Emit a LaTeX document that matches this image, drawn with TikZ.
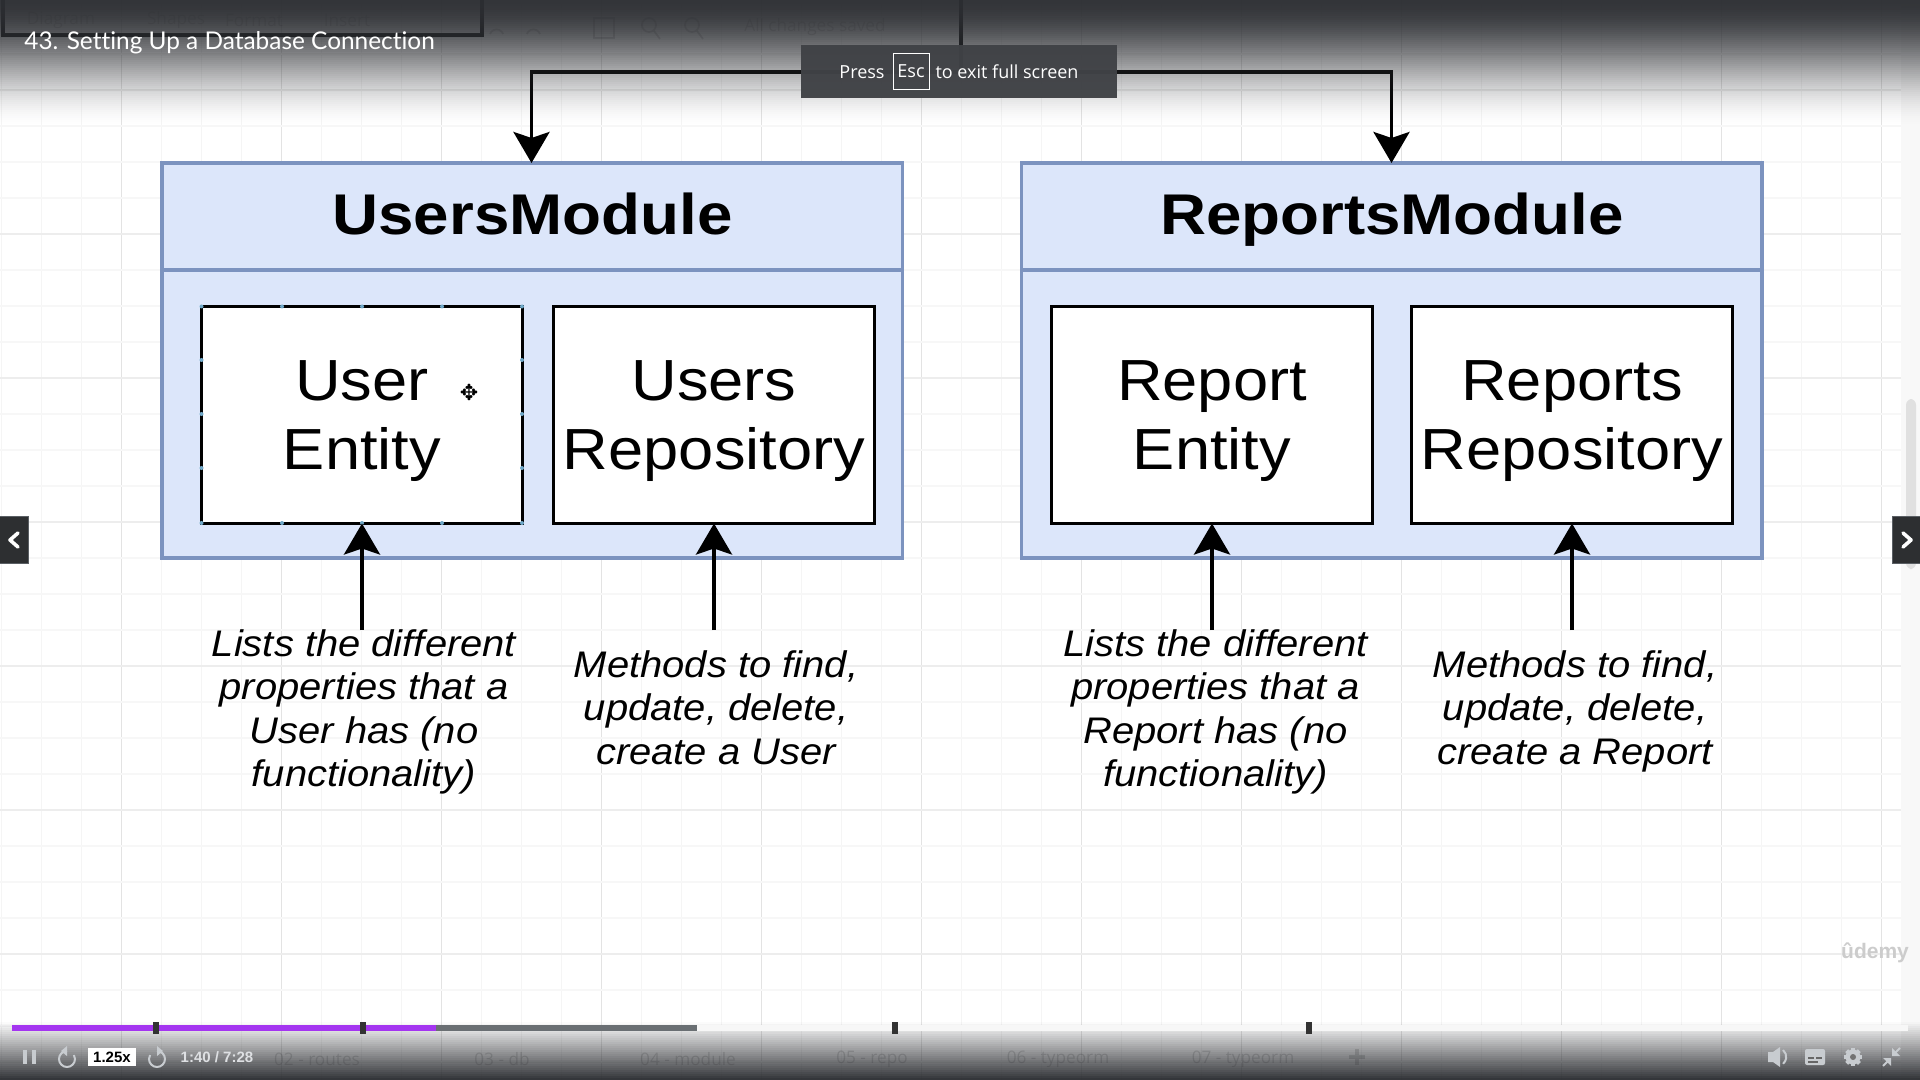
\documentclass[tikz,border=0pt]{standalone}
\usepackage{fontspec}
\usepackage{graphicx}
\setmainfont{Liberation Sans}
\newfontfamily\uifont{Open Sans}
\newfontfamily\titlefont[Ligatures=NoCommon]{Lato}
\newfontfamily\symfont{DejaVu Sans}
\usetikzlibrary{arrows.meta}
\definecolor{modfill}{HTML}{DCE6FA}
\definecolor{modline}{HTML}{7C93BF}
\definecolor{barkdark}{HTML}{2D2F33}
\definecolor{toastbg}{HTML}{404246}
\definecolor{purplebar}{HTML}{A435F0}
\definecolor{graybar}{HTML}{6A6F73}
\definecolor{handlecol}{HTML}{6FA8C8}
\definecolor{iconcol}{HTML}{C8CCD0}
\definecolor{navcol}{HTML}{2D2F31}
\definecolor{navedge}{HTML}{5A5F64}
\definecolor{panelcol}{HTML}{F8F8F8}
\newcommand{\xs}[2][1.11]{\scalebox{#1}[1]{\begin{tabular}{@{}c@{}}#2\end{tabular}}}
\newcommand{\boxtxt}[1]{\raisebox{-3pt}[\height][\depth]{\xs[1.09]{#1}}}
\tikzset{
  x=0.5pt,y=-0.5pt,
  modbox/.style={draw=modline,fill=modfill,line width=1.75pt,minimum width=370.25pt,inner sep=0pt,outer sep=0pt},
  inbox/.style={draw=black,fill=white,line width=1.9pt,inner sep=0pt,outer sep=0pt,align=center,minimum width=160.5pt,minimum height=108.5pt,anchor=north west,font=\fontsize{29}{34.3}\selectfont},
  headtxt/.style={font=\fontsize{28.7}{34}\selectfont\bfseries,inner sep=0pt,anchor=base},
  notetxt/.style={font=\fontsize{18.5}{21.6}\selectfont\itshape,inner sep=0pt,anchor=north},
  conn/.style={draw=black,line width=1.9pt},
  arr/.style={conn,-{Stealth[length=15.5pt,width=18pt,inset=3pt]}},
  ghost/.style={text=black,opacity=.16,inner sep=0pt,font=\uifont\fontsize{8.6}{10}\selectfont},
  ghostline/.style={draw=black,opacity=.16,line width=.9pt},
  uiw/.style={text=white,inner sep=0pt},
  navbtn/.style={fill=navcol,draw=navedge,line width=.5pt},
  chev/.style={draw=white,line width=1.8pt,line cap=round,line join=round},
  iconf/.style={fill=iconcol,draw=none},
  icond/.style={draw=iconcol},
}
\begin{document}
\begin{tikzpicture}
\useasboundingbox (0,0) rectangle (1920,1080);
\fill[white] (0,0) rectangle (1920,1080);
% grid
\foreach \gx in {0,...,47} {\draw[black!4,line width=.5pt] ({\gx*40+1.7},0) -- ({\gx*40+1.7},1080);}
\foreach \gx in {0,...,11} {\draw[black!11,line width=.5pt] ({\gx*160+121.7},0) -- ({\gx*160+121.7},1080);}
\foreach \gy in {0,...,29} {\draw[black!3,line width=.7pt] (0,{\gy*36+18}) -- (1920,{\gy*36+18});}
\foreach \gy in {0,...,6} {\draw[black!7,line width=.7pt] (0,{\gy*144+90}) -- (1920,{\gy*144+90});}
\fill[panelcol] (1901,0) rectangle (1920,1080);
\fill[black!12,rounded corners=3pt] (1906,399) rectangle (1916,569);
% top fragments
\coordinate (tl0) at (3,0);
\coordinate (tl1) at (3,35);
\coordinate (tl2) at (482,35);
\coordinate (tl3) at (482,0);
\draw[conn] (tl0) -- (tl1) -- (tl2) -- (tl3);
% modules
\node[modbox,minimum height=54pt,anchor=north west] (umh) at (162,163) {};
\node[modbox,minimum height=144pt,anchor=north west] (umb) at (162,270) {};
\node[modbox,minimum height=54pt,anchor=north west] (rmh) at (1021.5,163) {};
\node[modbox,minimum height=144pt,anchor=north west] (rmb) at (1021.5,270) {};
\node[headtxt] (umt) at (532.5,233) {\xs{UsersModule}};
\node[headtxt] (rmt) at (1392,233) {\xs{ReportsModule}};
% inner boxes
\node[inbox] (ue) at (201.5,306.5) {\boxtxt{User\\Entity}};
\node[inbox] (ur) at (553.5,306.5) {\boxtxt{Users\\Repository}};
\node[inbox] (re) at (1051.5,306.5) {\boxtxt{Report\\Entity}};
\node[inbox] (rr) at (1411.5,306.5) {\boxtxt{Reports\\Repository}};
% handles
\foreach \hx in {201.5,282,362,442,522} {
  \fill[handlecol] (\hx,306.5) circle (2);
  \fill[handlecol] (\hx,523) circle (2);
}
\foreach \hy in {360,414,468} {
  \fill[handlecol] (201.5,\hy) circle (2);
  \fill[handlecol] (522,\hy) circle (2);
}
% notes
\node[notetxt] (n1) at (364,626) {\xs[1.08]{Lists the different\\properties that a\\User has (no\\functionality)}};
\node[notetxt] (n2) at (716,647) {\xs[1.08]{Methods to find,\\update, delete,\\create a User}};
\node[notetxt] (n3) at (1215.5,626) {\xs[1.08]{Lists the different\\properties that a\\Report has (no\\functionality)}};
\node[notetxt] (n4) at (1575,647) {\xs[1.08]{Methods to find,\\update, delete,\\create a Report}};
% arrows up
\coordinate (a1) at (362,630);
\coordinate (a2) at (714,630);
\coordinate (a3) at (1212,630);
\coordinate (a4) at (1572,630);
\draw[arr] (a1) -- (a1 |- ue.south);
\draw[arr] (a2) -- (a2 |- ur.south);
\draw[arr] (a3) -- (a3 |- re.south);
\draw[arr] (a4) -- (a4 |- rr.south);
% top connector
\coordinate (t0) at (961,0);
\coordinate (t1) at (961,72);
\coordinate (tL) at (531.5,72);
\coordinate (tR) at (1391.5,72);
\draw[conn] (t0) -- (t1);
\draw[arr] (t1) -- (tL) -- (tL |- umh.north);
\draw[arr] (t1) -- (tR) -- (tR |- rmh.north);
% ghost toolbar and tabs
\node[ghost] (g1) at (61,20) {Diagram};
\node[ghost] (g2) at (176,20) {Shapes};
\node[ghost] (g3) at (254,20) {Format};
\node[ghost] (g4) at (347,20) {Insert};
\node[ghost] (g5) at (815,27) {All changes saved};
\draw[ghostline] (594,18) rectangle (614,38);
\draw[ghostline] (649,25) circle (7);
\draw[ghostline] (654,31) -- (660,39);
\draw[ghostline] (692,25) circle (7);
\draw[ghostline] (697,31) -- (703,39);
\draw[ghostline] (490,34) arc (-160:-20:7);
\draw[ghostline] (540,34) arc (-20:-160:7);
\node[ghost] (b2) at (317,1059) {02 - routes};
\node[ghost] (b3) at (502,1059) {03 - db};
\node[ghost] (b4) at (688,1059) {04 - module};
\node[ghost] (b5) at (872,1059) {05 - repo};
\node[ghost] (b6) at (1058,1059) {06 - typeorm};
\node[ghost] (b7) at (1243,1059) {07 - typeorm};
\draw[ghostline,line width=1.6pt] (1357,1049) -- (1357,1065) (1349,1057) -- (1365,1057);
% gradients
\foreach \i in {0,2,...,126} {
  \pgfmathsetmacro{\tv}{(\i+1)/128}
  \pgfmathsetmacro{\av}{.97*(1-3*\tv*\tv+2*\tv*\tv*\tv)}
  \fill[barkdark,opacity=\av] (0,\i) rectangle (1920,\i+2);
}
\foreach \i in {1022,1024,...,1078} {
  \pgfmathsetmacro{\tv}{(\i+1-1022)/58}
  \pgfmathsetmacro{\av}{.98*\tv}
  \fill[barkdark,opacity=\av] (0,\i) rectangle (1920,\i+2);
}
% toast
\fill[toastbg,opacity=.97] (801,45) rectangle (1117,98);
\node[uiw,font=\uifont\fontsize{9}{11}\selectfont] (pr) at (862,72) {Press};
\node[uiw,draw=white,line width=.4pt,minimum width=18pt,minimum height=18pt,font=\uifont\fontsize{9}{11}\selectfont] (esc) at (911,71) {Esc};
\node[uiw,font=\uifont\fontsize{9}{11}\selectfont] (ex) at (1007,72) {to exit full screen};
% title
\node[uiw,anchor=west,font=\titlefont\fontsize{12.2}{14}\selectfont] (title) at (24,43) {43. Setting Up a Database Connection};
% progress
\fill[black!3] (12,1025) rectangle (1908,1031);
\fill[graybar] (12,1025) rectangle (697,1031);
\fill[purplebar] (12,1025) rectangle (436,1031);
\foreach \tx in {156,363,895,1309} {\fill[black!80] (\tx-3,1022) rectangle (\tx+3,1034);}
% controls
\fill[iconf] (23,1050) rectangle (27,1064);
\fill[iconf] (32,1050) rectangle (36,1064);
\draw[icond,line width=1pt] (67,1051) arc (-90:-390:8);
\fill[iconf] (67,1046) -- (61,1051) -- (67,1056) -- cycle;
\draw[icond,line width=1pt] (157,1051) arc (-90:210:8);
\fill[iconf] (157,1046) -- (163,1051) -- (157,1056) -- cycle;
\node[fill=white,text=black,minimum width=24pt,minimum height=9pt,inner sep=0pt,font=\bfseries\fontsize{7.5}{9}\selectfont] (spd) at (112,1057) {1.25x};
\node[text=iconcol!60!white,inner sep=0pt,font=\bfseries\fontsize{7.5}{9}\selectfont] (tm) at (217,1057) {1:40 / 7:28};
% right icons
\fill[iconf] (1768,1052) -- (1773,1052) -- (1780,1047) -- (1780,1067) -- (1773,1062) -- (1768,1062) -- cycle;
\draw[icond,line width=1pt] (1783,1050) arc (-50:50:9);
\fill[iconf,rounded corners=1pt] (1805,1049) rectangle (1825,1065);
\fill[black!60] (1808,1057) rectangle (1814,1059);
\fill[black!60] (1816,1057) rectangle (1822,1059);
\fill[black!60] (1808,1061) rectangle (1818,1063);
\foreach \ga in {0,45,...,315} {\draw[icond,line width=2pt] (1853,1057) -- ++(\ga:9);}
\fill[iconf] (1853,1057) circle (7.5);
\fill[black!55] (1853,1057) circle (3);
\draw[icond,line width=1pt] (1883,1066) -- (1890,1059);
\fill[iconf] (1891,1058) -- (1891,1066) -- (1883,1058) -- cycle;
\draw[icond,line width=1pt] (1900,1048) -- (1893,1055);
\fill[iconf] (1892,1056) -- (1892,1048) -- (1900,1056) -- cycle;
% nav
\fill[navbtn] (-2,516) rectangle (28,563);
\fill[navbtn] (1892,516) rectangle (1922,563);
\draw[chev] (18,533) -- (10,540) -- (18,547);
\draw[chev] (1903,533) -- (1911,540) -- (1903,547);
% watermark
\node[text=black!20,inner sep=0pt,font=\bfseries\fontsize{10.5}{12}\selectfont] (ud) at (1875,953) {ûdemy};
% move cursor
\node[text=black,inner sep=0pt,font=\symfont\fontsize{11}{11}\selectfont] (cur) at (469,392) {✥};
\end{tikzpicture}
\end{document}
